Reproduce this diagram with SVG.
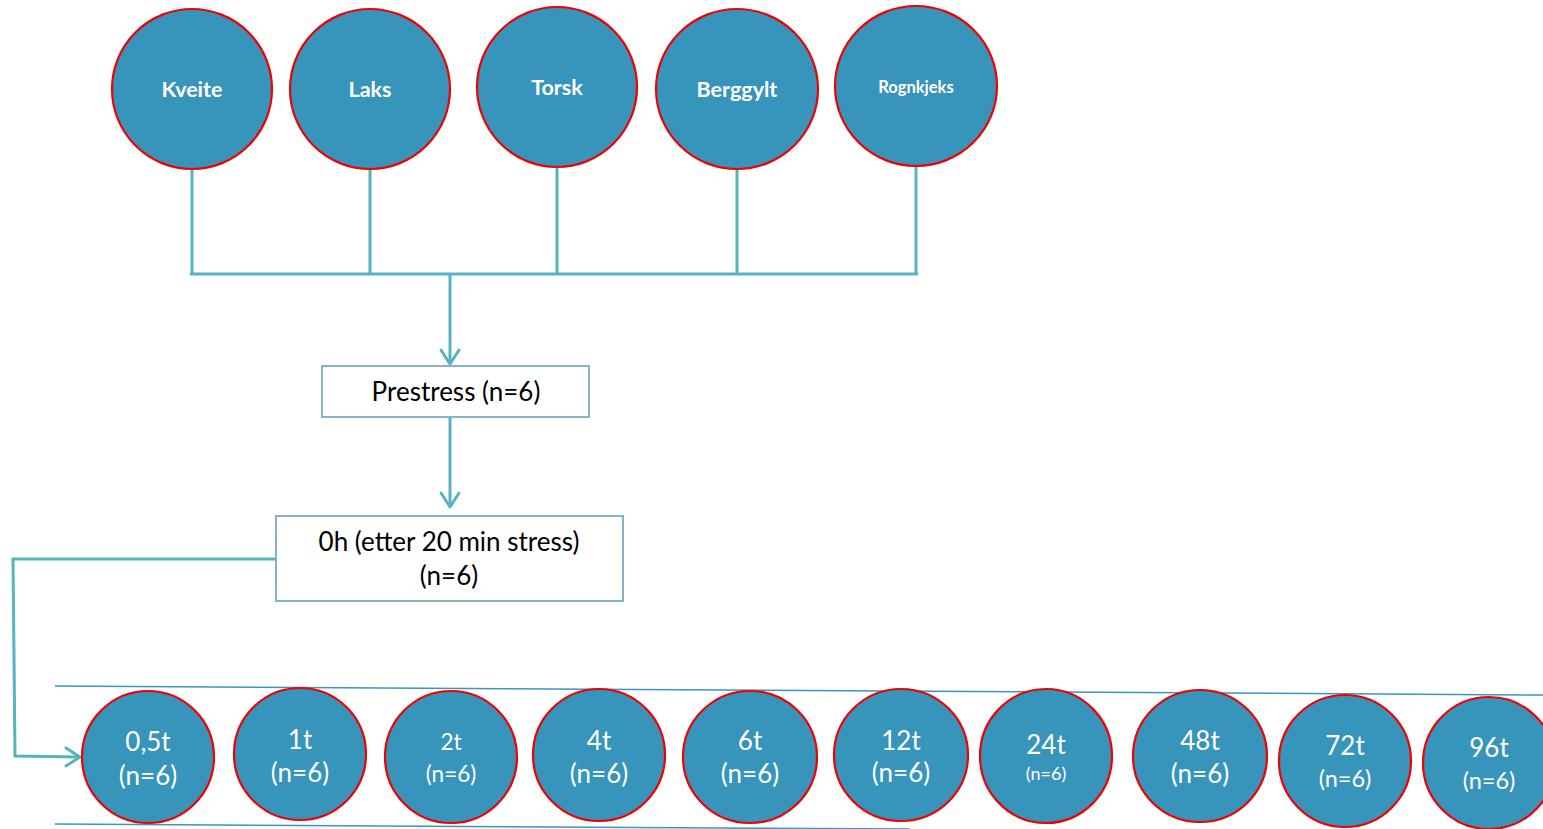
<svg xmlns="http://www.w3.org/2000/svg" width="1543" height="829" viewBox="0 0 1543 829">
<style>
.c{fill:#3794bb;stroke:#f00000;stroke-width:2.2}
.w{fill:#fff;font-family:Lato,"Liberation Sans",sans-serif;text-anchor:middle}
.b{font-weight:bold}
.k{fill:#000;font-family:Lato,"Liberation Sans",sans-serif;text-anchor:middle;font-size:26px}
.ln{fill:none;stroke:#55b4bf;stroke-width:3}
.ar{fill:none;stroke:#55b4bf;stroke-width:3;stroke-linecap:round;stroke-linejoin:round}
.bx{fill:#fff;stroke:#86b4c2;stroke-width:2}
.rail{fill:none;stroke:#3a95c0;stroke-width:1.5}
</style>
<rect width="1543" height="829" fill="#fff"/>
<g id="connectors">
<path class="ln" d="M192,168V274M370,168V274M557,166V274M737,168V274M916,166V274M190,274H918"/>
<path class="ln" d="M450,274V363"/>
<path class="ar" d="M441,350L450,364L459,350"/>
<path class="ln" d="M450,417V506"/>
<path class="ar" d="M441,493L450,507L459,493"/>
<path class="ln" d="M276,559H13L15,756L79,757"/>
<path class="ar" d="M66,748L80,757L66,766"/>
<path class="rail" d="M55,686L1543,695"/>
<path class="rail" d="M55,824L910,829"/>
</g>
<g id="kveite"><ellipse class="c" cx="192" cy="89" rx="80" ry="80"/><text class="w b" x="192" y="97" font-size="21.5">Kveite</text></g>
<g id="laks"><ellipse class="c" cx="370" cy="89" rx="80" ry="80"/><text class="w b" x="370" y="97" font-size="21.5">Laks</text></g>
<g id="torsk"><ellipse class="c" cx="557" cy="87" rx="80" ry="80"/><text class="w b" x="557" y="95" font-size="21.5">Torsk</text></g>
<g id="berggylt"><ellipse class="c" cx="737" cy="89" rx="81" ry="80"/><text class="w b" x="737" y="97" font-size="21.5">Berggylt</text></g>
<g id="rognkjeks"><ellipse class="c" cx="916" cy="86" rx="81" ry="80"/><text class="w b" x="916" y="93" font-size="16.5">Rognkjeks</text></g>
<g id="prestress"><rect class="bx" x="322" y="366" width="267" height="51"/><text class="k" x="456" y="401">Prestress (n=6)</text></g>
<g id="zero"><rect class="bx" x="276" y="516" width="347" height="85"/><text class="k" x="449" y="551">0h (etter 20 min stress)</text><text class="k" x="449" y="585">(n=6)</text></g>
<g id="t05"><ellipse class="c" cx="148" cy="757" rx="66" ry="66"/><text class="w" x="148" y="751" font-size="26">0,5t</text><text class="w" x="148" y="785" font-size="26">(n=6)</text></g>
<g id="t1"><ellipse class="c" cx="300" cy="754" rx="66" ry="66"/><text class="w" x="300" y="749" font-size="26">1t</text><text class="w" x="300" y="782" font-size="26">(n=6)</text></g>
<g id="t2"><ellipse class="c" cx="451" cy="757" rx="66" ry="66"/><text class="w" x="451" y="750" font-size="22.5">2t</text><text class="w" x="451" y="782" font-size="22.5">(n=6)</text></g>
<g id="t4"><ellipse class="c" cx="599" cy="755" rx="66" ry="66"/><text class="w" x="599" y="750" font-size="26">4t</text><text class="w" x="599" y="783" font-size="26">(n=6)</text></g>
<g id="t6"><ellipse class="c" cx="750" cy="757" rx="67" ry="66"/><text class="w" x="750" y="750" font-size="26">6t</text><text class="w" x="750" y="783" font-size="26">(n=6)</text></g>
<g id="t12"><ellipse class="c" cx="901" cy="755" rx="67" ry="66"/><text class="w" x="901" y="750" font-size="26">12t</text><text class="w" x="901" y="782" font-size="26">(n=6)</text></g>
<g id="t24"><ellipse class="c" cx="1046" cy="756" rx="66" ry="67"/><text class="w" x="1046" y="754" font-size="26">24t</text><text class="w" x="1046" y="780" font-size="18">(n=6)</text></g>
<g id="t48"><ellipse class="c" cx="1200" cy="756" rx="67" ry="66"/><text class="w" x="1200" y="750" font-size="26">48t</text><text class="w" x="1200" y="783" font-size="26">(n=6)</text></g>
<g id="t72"><ellipse class="c" cx="1345" cy="761" rx="66" ry="66"/><text class="w" x="1345" y="755" font-size="26">72t</text><text class="w" x="1345" y="787" font-size="23.5">(n=6)</text></g>
<g id="t96"><ellipse class="c" cx="1489" cy="763" rx="66" ry="66"/><text class="w" x="1489" y="757" font-size="26">96t</text><text class="w" x="1489" y="789" font-size="23.5">(n=6)</text></g>
</svg>
